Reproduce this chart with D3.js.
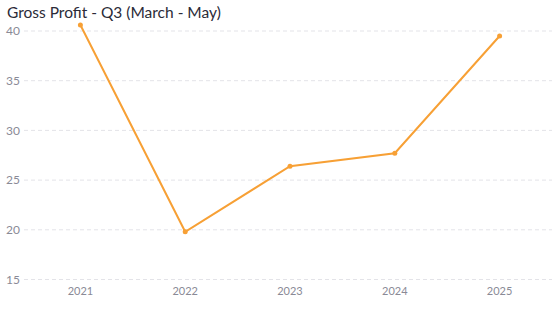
<!DOCTYPE html>
<html>
<head>
<meta charset="utf-8">
<script src="https://cdn.jsdelivr.net/npm/d3@7"></script>
<style>
  body { margin: 0; background: #fff; }
  svg { display: block; font-family: Lato, "Open Sans", sans-serif; }
</style>
</head>
<body>
<svg></svg>
<script>
const years = ['2021', '2022', '2023', '2024', '2025'];
const grossProfit = [40.6, 19.8, 26.4, 27.7, 39.5];
const yTicks = [15, 20, 25, 30, 35, 40];

const width = 552;
const height = 312;

const svg = d3.select('svg')
  .attr('width', width)
  .attr('height', height);

const x = d3.scaleBand()
  .domain(years)
  .range([28, 552]);

const y = d3.scaleLinear()
  .domain([15, 40])
  .range([279.5, 31]);

svg.append('text')
  .attr('x', 7)
  .attr('y', 18)
  .attr('font-size', 15.5)
  .attr('fill', '#2b2b38')
  .text('Gross Profit - Q3 (March - May)');

// grid + y labels
const grid = svg.append('g');
grid.selectAll('line')
  .data(yTicks)
  .enter().append('line')
  .attr('x1', 24)
  .attr('x2', width)
  .attr('y1', d => y(d))
  .attr('y2', d => y(d))
  .attr('stroke', '#e3e3e8')
  .attr('stroke-dasharray', '4,3');

grid.selectAll('text')
  .data(yTicks)
  .enter().append('text')
  .attr('x', 20)
  .attr('y', d => y(d))
  .attr('dy', '.35em')
  .attr('text-anchor', 'end')
  .attr('font-size', 12)
  .attr('fill', '#8a8a96')
  .text(d => d);

svg.append('g')
  .selectAll('text')
  .data(years)
  .enter().append('text')
  .attr('x', d => x(d) + x.bandwidth() / 2)
  .attr('y', 295)
  .attr('text-anchor', 'middle')
  .attr('font-size', 11)
  .attr('fill', '#8a8a96')
  .text(d => d);

const data = years.map((yr, i) => ({ year: yr, value: grossProfit[i] }));

const line = d3.line()
  .x(d => x(d.year) + x.bandwidth() / 2)
  .y(d => y(d.value));

svg.append('path')
  .datum(data)
  .attr('d', line)
  .attr('fill', 'none')
  .attr('stroke', '#f7a035')
  .attr('stroke-width', 2);

svg.append('g')
  .selectAll('circle')
  .data(data)
  .enter().append('circle')
  .attr('cx', d => x(d.year) + x.bandwidth() / 2)
  .attr('cy', d => y(d.value))
  .attr('r', 2.5)
  .attr('fill', '#f7a035');
</script>
</body>
</html>
